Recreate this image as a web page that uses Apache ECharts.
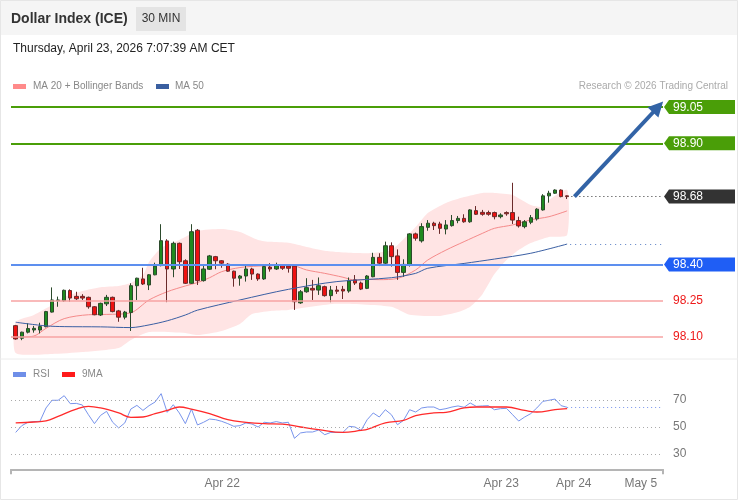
<!DOCTYPE html>
<html><head><meta charset="utf-8">
<script src="https://cdn.jsdelivr.net/npm/echarts@6/dist/echarts.min.js"></script>
<style>html,body{margin:0;padding:0;background:#fff}#c{width:738px;height:500px}</style>
</head><body><div id="c"></div>
<script>
// ---- data (30-minute candles, index = bar number) ----
const opens = [98.147,98.095,98.120,98.129,98.129,98.143,98.203,98.250,98.250,98.292,
98.268,98.268,98.264,98.225,98.191,98.237,98.264,98.208,98.182,98.201,
98.312,98.340,98.315,98.357,98.395,98.497,98.381,98.487,98.415,98.322,
98.541,98.333,98.380,98.432,98.415,98.401,98.372,98.343,98.352,98.381,
98.360,98.340,98.389,98.381,98.395,98.393,98.393,98.241,98.287,98.301,
98.294,98.308,98.271,98.294,98.297,98.290,98.336,98.323,98.301,98.349,
98.429,98.405,98.477,98.435,98.367,98.398,98.526,98.497,98.553,98.570,
98.567,98.546,98.560,98.581,98.590,98.576,98.622,98.615,98.614,98.614,
98.597,98.614,98.614,98.581,98.556,98.574,98.588,98.625,98.683,98.694,
98.707,98.683];
const closes = [98.092,98.120,98.135,98.136,98.143,98.205,98.253,98.253,98.293,98.261,
98.258,98.261,98.225,98.192,98.239,98.264,98.205,98.182,98.203,98.312,
98.343,98.319,98.357,98.393,98.498,98.381,98.487,98.411,98.322,98.535,
98.333,98.381,98.435,98.415,98.405,98.372,98.343,98.352,98.381,98.360,
98.340,98.391,98.381,98.398,98.384,98.384,98.246,98.287,98.304,98.294,
98.312,98.271,98.294,98.289,98.290,98.332,98.323,98.298,98.352,98.429,
98.405,98.477,98.432,98.367,98.400,98.526,98.508,98.556,98.570,98.560,
98.549,98.563,98.581,98.590,98.576,98.625,98.607,98.607,98.607,98.597,
98.604,98.609,98.583,98.559,98.576,98.593,98.628,98.683,98.694,98.707,
98.680,98.680];
const lows = [98.089,98.087,98.115,98.118,98.115,98.140,98.201,98.225,98.246,98.246,
98.253,98.253,98.217,98.190,98.187,98.228,98.202,98.163,98.173,98.125,
98.253,98.315,98.294,98.355,98.392,98.244,98.347,98.381,98.319,98.319,
98.315,98.329,98.377,98.380,98.386,98.369,98.308,98.312,98.329,98.336,
98.332,98.336,98.370,98.377,98.377,98.366,98.212,98.237,98.283,98.253,
98.274,98.267,98.244,98.278,98.257,98.283,98.315,98.294,98.298,98.347,
98.393,98.395,98.391,98.336,98.349,98.391,98.498,98.490,98.539,98.542,
98.526,98.524,98.556,98.570,98.572,98.572,98.604,98.601,98.601,98.586,
98.590,98.601,98.567,98.552,98.549,98.566,98.581,98.622,98.655,98.691,
98.677,98.670];
const highs = [98.150,98.122,98.157,98.146,98.159,98.208,98.305,98.267,98.296,98.297,
98.287,98.277,98.267,98.228,98.242,98.274,98.267,98.212,98.208,98.322,
98.345,98.386,98.360,98.407,98.566,98.504,98.494,98.490,98.421,98.566,
98.546,98.398,98.439,98.435,98.418,98.405,98.374,98.356,98.400,98.386,
98.363,98.393,98.405,98.407,98.398,98.398,98.396,98.294,98.343,98.336,
98.346,98.312,98.311,98.311,98.311,98.346,98.356,98.329,98.356,98.448,
98.446,98.494,98.491,98.462,98.421,98.529,98.531,98.570,98.583,98.576,
98.576,98.583,98.604,98.600,98.607,98.628,98.641,98.625,98.622,98.618,
98.611,98.619,98.737,98.597,98.583,98.604,98.632,98.690,98.704,98.710,
98.710,98.685];

// MA 20, Bollinger bands and MA 50, read at sample bars: [bar, value]
const ma20 = [[0,98.099],[3,98.104],[5,98.136],[8,98.176],[12,98.192],[16,98.194],[19,98.200],[22,98.253],[25,98.287],[28,98.311],[30,98.325],[32,98.345],[34,98.370],[37,98.387],[40,98.393],[43,98.395],[46,98.393],[48,98.377],[51,98.363],[54,98.347],[56,98.335],[58,98.338],[60,98.337],[63,98.342],[66,98.377],[68,98.418],[71,98.459],[74,98.494],[77,98.528],[79,98.549],[82,98.563],[85,98.584],[88,98.597],[91,98.621]];
const bbUpper = [[0,98.162],[3,98.191],[6,98.232],[8,98.265],[11,98.290],[14,98.306],[17,98.311],[19,98.323],[21,98.356],[22,98.410],[24,98.468],[27,98.501],[30,98.538],[34,98.546],[37,98.534],[40,98.501],[42,98.493],[45,98.489],[48,98.472],[51,98.456],[53,98.451],[56,98.447],[59,98.447],[62,98.459],[66,98.554],[68,98.612],[71,98.654],[74,98.678],[77,98.695],[79,98.695],[82,98.687],[85,98.645],[87,98.637],[88,98.666],[91,98.707]];
const bbLower = [[0,98.034],[6,98.030],[11,98.038],[17,98.055],[19,98.088],[22,98.121],[28,98.117],[30,98.108],[34,98.125],[37,98.154],[39,98.195],[42,98.208],[45,98.212],[53,98.237],[62,98.225],[65,98.192],[70,98.187],[73,98.203],[75,98.225],[77,98.276],[79,98.360],[81,98.418],[83,98.459],[85,98.488],[88,98.513],[91,98.521]];
const ma50 = [[0,98.161],[5,98.146],[8,98.143],[14,98.142],[19,98.139],[22,98.150],[25,98.167],[28,98.191],[30,98.211],[37,98.253],[45,98.297],[53,98.329],[62,98.345],[66,98.363],[68,98.384],[74,98.404],[79,98.422],[85,98.446],[91,98.484]];

// RSI (one value per bar) and its 9-period MA (sample bars)
const rsi = [46.0,51.0,53.4,54.0,54.2,64.1,69.8,69.8,73.2,67.3,
67.5,66.3,59.1,52.5,58.6,61.6,53.5,49.3,53.0,63.3,
66.0,62.3,65.8,68.5,74.7,60.9,66.5,60.4,52.5,63.3,
51.5,53.5,55.9,55.4,54.2,52.5,50.5,51.0,53.0,52.2,
50.0,53.5,53.0,54.0,53.0,53.5,41.6,45.6,46.3,46.3,
47.8,44.3,46.0,46.0,46.0,50.5,50.0,47.5,55.4,60.4,
57.4,62.8,59.1,51.7,54.9,62.8,61.1,64.1,64.8,64.8,
62.8,63.6,64.8,65.6,64.6,67.8,65.3,65.6,65.8,62.8,
63.6,63.8,59.1,54.4,57.4,59.9,64.1,69.0,69.8,70.7,
65.8,64.6];
const rsiMa9 = [[0,53.0],[3,53.7],[5,54.5],[7,57.9],[10,63.3],[12,65.3],[14,64.1],[17,60.4],[19,57.2],[21,57.4],[23,59.9],[25,62.3],[27,64.8],[29,63.3],[32,59.9],[35,55.4],[38,53.5],[41,52.5],[44,52.2],[47,50.0],[50,48.0],[54,46.0],[57,47.5],[58,48.2],[61,53.0],[64,54.9],[66,58.4],[69,60.4],[71,60.9],[74,64.1],[76,64.8],[81,64.8],[84,62.3],[86,61.1],[89,62.8],[91,63.6]];

// levels and axis labels
const tagLevels = [99.05, 98.90, 98.68, 98.40];
const tagColors = ['#4a9e08', '#4a9e08', '#333333', '#1f5ef5'];
const redLevels = [98.25, 98.10];
const target = [106.0, 99.05];
const rsiLevels = [70, 50, 30];
const xLabels = ['Apr 22', 'Apr 23', 'Apr 24', 'May 5'];
const xLabelPos = [34.08, 80.13, 92.1, 103.15];

// ---- chart ----
const FONT = '"Liberation Sans", Arial, sans-serif';
const xMin = -0.776, xMax = 106.82;
const last = opens.length - 1;
const lastClose = closes[last];
const lastMa50 = ma50[ma50.length - 1];
const lastRsi = rsi[last];

const chart = echarts.init(document.getElementById('c'), null, {renderer: 'canvas'});

const candleData = opens.map((o, i) => [i, o, closes[i], lows[i], highs[i]]);

const option = {
  animation: false,
  backgroundColor: '#fff',
  textStyle: {fontFamily: FONT},
  grid: [
    {left: 11, right: 75, top: 94.9, height: 261.5},
    {left: 11, right: 75, top: 386.5, height: 82.8}
  ],
  xAxis: [
    {type: 'value', gridIndex: 0, min: xMin, max: xMax, show: false},
    {type: 'value', gridIndex: 1, min: xMin, max: xMax,
      axisLine: {show: true, lineStyle: {color: '#b5b5b5', width: 2}},
      axisTick: {show: true, customValues: [xMin, xMax], length: 5, lineStyle: {color: '#b5b5b5', width: 2}},
      axisLabel: {customValues: xLabelPos, formatter: v => xLabels[xLabelPos.indexOf(v)] || '',
        color: '#777', fontSize: 12, fontFamily: FONT, margin: 8},
      splitLine: {show: false}}
  ],
  yAxis: [
    {type: 'value', gridIndex: 0, min: 98.02, max: 99.10, show: false},
    {type: 'value', gridIndex: 1, min: 18.67, max: 80, show: false}
  ],
  graphic: [
    {type: 'rect', shape: {x: 0, y: 0, width: 738, height: 35}, style: {fill: '#f5f5f5'}, z: -10},
    {type: 'rect', shape: {x: 0.5, y: 0.5, width: 737, height: 499}, style: {fill: null, stroke: '#e6e6e6', lineWidth: 1}, z: -5},
    {type: 'line', shape: {x1: 0, y1: 359, x2: 738, y2: 359}, style: {stroke: '#ececec', lineWidth: 1}},
    {type: 'text', x: 11, y: 19, style: {text: 'Dollar Index (ICE)', font: 'bold 14px ' + FONT, fill: '#333', verticalAlign: 'middle'}},
    {type: 'rect', shape: {x: 136, y: 7, width: 50, height: 24}, style: {fill: '#e4e4e4'}},
    {type: 'text', x: 161, y: 19, style: {text: '30 MIN', font: '12px ' + FONT, fill: '#333', align: 'center', verticalAlign: 'middle'}},
    {type: 'text', x: 13, y: 48.5, style: {text: 'Thursday, April 23, 2026 7:07:39 AM CET', font: '12px ' + FONT, fill: '#222', verticalAlign: 'middle'}},
    {type: 'rect', shape: {x: 13, y: 84, width: 13, height: 5}, style: {fill: '#ff8a8a'}},
    {type: 'text', x: 33, y: 86.5, style: {text: 'MA 20 + Bollinger Bands', font: '10px ' + FONT, fill: '#888', verticalAlign: 'middle'}},
    {type: 'rect', shape: {x: 156, y: 84, width: 13, height: 5}, style: {fill: '#3a5fa0'}},
    {type: 'text', x: 175, y: 86.5, style: {text: 'MA 50', font: '10px ' + FONT, fill: '#888', verticalAlign: 'middle'}},
    {type: 'text', x: 728, y: 86.5, style: {text: 'Research \u00a9 2026 Trading Central', font: '10px ' + FONT, fill: '#aaa', align: 'right', verticalAlign: 'middle'}},
    {type: 'rect', shape: {x: 13, y: 372, width: 13, height: 5}, style: {fill: '#6f8fe8'}},
    {type: 'text', x: 33, y: 374.5, style: {text: 'RSI', font: '10px ' + FONT, fill: '#888', verticalAlign: 'middle'}},
    {type: 'rect', shape: {x: 62, y: 372, width: 13, height: 5}, style: {fill: '#ff1a1a'}},
    {type: 'text', x: 82, y: 374.5, style: {text: '9MA', font: '10px ' + FONT, fill: '#888', verticalAlign: 'middle'}}
  ],
  series: [
    { // Bollinger band fill
      type: 'custom', xAxisIndex: 0, yAxisIndex: 0, silent: true, z: 1,
      data: [[0, bbUpper[0][1]]],
      renderItem: (params, api) => {
        const pts = bbUpper.map(p => api.coord(p)).concat(bbLower.slice().reverse().map(p => api.coord(p)));
        return {type: 'polygon', shape: {points: pts, smooth: 0.2}, style: {fill: '#ffe4e4'}};
      }
    },
    {
      type: 'line', name: 'MA 20', xAxisIndex: 0, yAxisIndex: 0, data: ma20, smooth: 0.3,
      symbol: 'none', lineStyle: {color: '#f58a8a', width: 1}, z: 2, silent: true
    },
    {
      type: 'line', name: 'MA 50', xAxisIndex: 0, yAxisIndex: 0, data: ma50, smooth: 0.3,
      symbol: 'none', lineStyle: {color: '#3a5fa3', width: 1}, z: 4, silent: true,
      markLine: {
        silent: true, symbol: ['none', 'none'], label: {show: false},
        lineStyle: {color: '#5a7fc4', type: [1, 4], width: 1.2},
        data: [[{coord: [lastMa50[0] + 0.5, lastMa50[1]]}, {coord: [xMax, lastMa50[1]]}]]
      }
    },
    {
      type: 'candlestick', xAxisIndex: 0, yAxisIndex: 0, z: 3,
      encode: {x: 0, y: [1, 2, 3, 4]},
      data: candleData, barWidth: 4,
      itemStyle: {color: '#1f8a1f', color0: '#ee1111', borderColor: '#2c4a2c', borderColor0: '#6a2a2a', borderWidth: 1},
      markLine: {
        silent: true, symbol: ['none', 'none'], animation: false,
        data: [
          {yAxis: tagLevels[0], lineStyle: {color: '#4a9e08', width: 2, type: 'solid'}, label: {show: false}},
          {yAxis: tagLevels[1], lineStyle: {color: '#4a9e08', width: 2, type: 'solid'}, label: {show: false}},
          {yAxis: tagLevels[3], lineStyle: {color: '#5d8fef', width: 2, type: 'solid'}, label: {show: false}},
          ...redLevels.map(v => ({yAxis: v, lineStyle: {color: '#f7a3a3', width: 1.5, type: 'solid'},
            label: {show: true, position: 'end', distance: 10, formatter: v.toFixed(2), color: '#ee1a1a', fontSize: 12, fontFamily: FONT}})),
          [{coord: [last + 0.7, lastClose], lineStyle: {color: '#333', width: 1.2, type: [1, 3]}, label: {show: false}},
           {coord: [xMax, lastClose]}],
          [{coord: [last + 1.2, lastClose], symbol: 'none', lineStyle: {color: '#3263a6', width: 4, type: 'solid'}, label: {show: false}},
           {coord: target, symbol: 'triangle', symbolSize: [15, 15]}]
        ]
      }
    },
    { // level tags
      type: 'custom', xAxisIndex: 0, yAxisIndex: 0, silent: true, z: 6, clip: false,
      data: tagLevels.map(v => [xMax, v]),
      renderItem: (params, api) => {
        const p = api.coord([api.value(0), api.value(1)]);
        const x = p[0], y = p[1];
        return {type: 'group', children: [
          {type: 'polygon', shape: {points: [[x + 1, y], [x + 6, y - 7], [x + 72, y - 7], [x + 72, y + 7], [x + 6, y + 7]]}, style: {fill: tagColors[params.dataIndex]}},
          {type: 'text', style: {x: x + 10, y: y + 0.5, text: api.value(1).toFixed(2), fill: '#fff', font: '12px ' + FONT, verticalAlign: 'middle'}}
        ]};
      }
    },
    {
      type: 'line', name: 'RSI', xAxisIndex: 1, yAxisIndex: 1,
      data: rsi.map((v, i) => [i, v]), symbol: 'none',
      lineStyle: {color: '#7894ec', width: 1}, z: 3, silent: true,
      markLine: {
        silent: true, symbol: ['none', 'none'],
        data: [
          ...rsiLevels.map(v => ({yAxis: v, lineStyle: {color: '#aaa', width: 1, type: [1, 3]},
            label: {show: true, position: 'end', distance: 10, formatter: String(v), color: '#777', fontSize: 12, fontFamily: FONT}})),
          [{coord: [last, lastRsi], lineStyle: {color: '#7894ec', width: 1.2, type: [1, 3]}, label: {show: false}},
           {coord: [xMax, lastRsi]}]
        ]
      }
    },
    {
      type: 'line', name: '9MA', xAxisIndex: 1, yAxisIndex: 1, data: rsiMa9, smooth: 0.4,
      symbol: 'none', lineStyle: {color: '#ff2a2a', width: 1.3}, z: 4, silent: true
    }
  ]
};
chart.setOption(option);
</script></body></html>
